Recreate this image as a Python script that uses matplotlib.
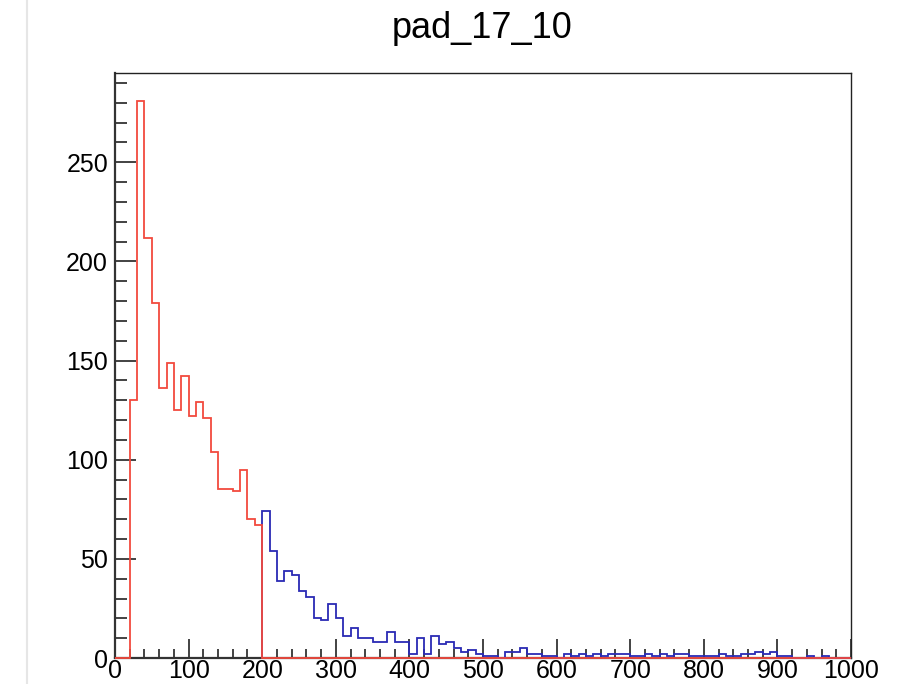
import numpy as np
import matplotlib.pyplot as plt
from matplotlib.lines import Line2D

plt.rcParams['font.family'] = ['Liberation Sans', 'DejaVu Sans']

title = 'pad_17_10'
bin_width = 10

# red histogram: bins 0-200, zero above
red_counts = [0, 0, 130, 281, 212, 179, 136, 149, 125, 142,
              122, 129, 121, 104, 85, 85, 84, 95, 70, 67] + [0] * 80

# blue histogram: bins 200-1000
blue_counts = [74, 54, 39, 44, 42, 34, 31, 20, 19, 27,
               20, 11, 15, 10, 10, 8, 8, 13, 8, 8,
               2, 10, 2, 11, 7, 8, 5, 3, 4, 2,
               1, 1, 0, 3, 3, 5, 2, 2, 1, 1,
               0, 2, 1, 2, 1, 2, 1, 2, 2, 2,
               1, 1, 2, 1, 2, 1, 2, 2, 1, 1,
               1, 1, 2, 1, 1, 2, 2, 3, 2, 3,
               1, 1, 0, 0, 1, 0, 1, 0, 0, 0]

red_edges = np.arange(len(red_counts) + 1) * bin_width
blue_edges = 200 + np.arange(len(blue_counts) + 1) * bin_width

fig = plt.figure(figsize=(9.05, 6.84), dpi=100)
ax = fig.add_axes([115 / 905, 1 - 658 / 684, (851 - 115) / 905, (658 - 73) / 684])

ax.stairs(blue_counts, blue_edges, color='#2a2ab4', lw=1.3, zorder=3, clip_on=False)
ax.stairs(red_counts, red_edges, color='#f24a3e', lw=1.3, zorder=4, clip_on=False)

ax.set_xlim(0, 1000)
ax.set_ylim(0, 295)
ax.set_xticks(np.arange(0, 1001, 100))
ax.set_xticks(np.arange(0, 1001, 20), minor=True)
ax.set_yticks(np.arange(0, 251, 50))
ax.set_yticks(np.arange(0, 295, 10), minor=True)

ax.tick_params(axis='both', which='both', direction='in', color='#222222')
ax.tick_params(axis='both', which='major', labelsize=18)
ax.tick_params(axis='x', which='major', length=14, width=1.2, pad=1)
ax.tick_params(axis='x', which='minor', length=6.5, width=1.2)
ax.tick_params(axis='y', which='major', length=15, width=1.2, pad=5)
ax.tick_params(axis='y', which='minor', length=8.5, width=1.2)

for side in ['left', 'bottom']:
    ax.spines[side].set_linewidth(1.6)
    ax.spines[side].set_color('#333333')
for side in ['top', 'right']:
    ax.spines[side].set_linewidth(1.0)
    ax.spines[side].set_color('#222222')

fig.text(482 / 905, 1 - 28 / 684, title, ha='center', va='center', fontsize=26)

# screenshot border line on the left
fig.add_artist(Line2D([27 / 905, 27 / 905], [0, 1], transform=fig.transFigure,
                      color='#e6e6e6', lw=1.5))

fig.savefig('out.png', dpi=100)
